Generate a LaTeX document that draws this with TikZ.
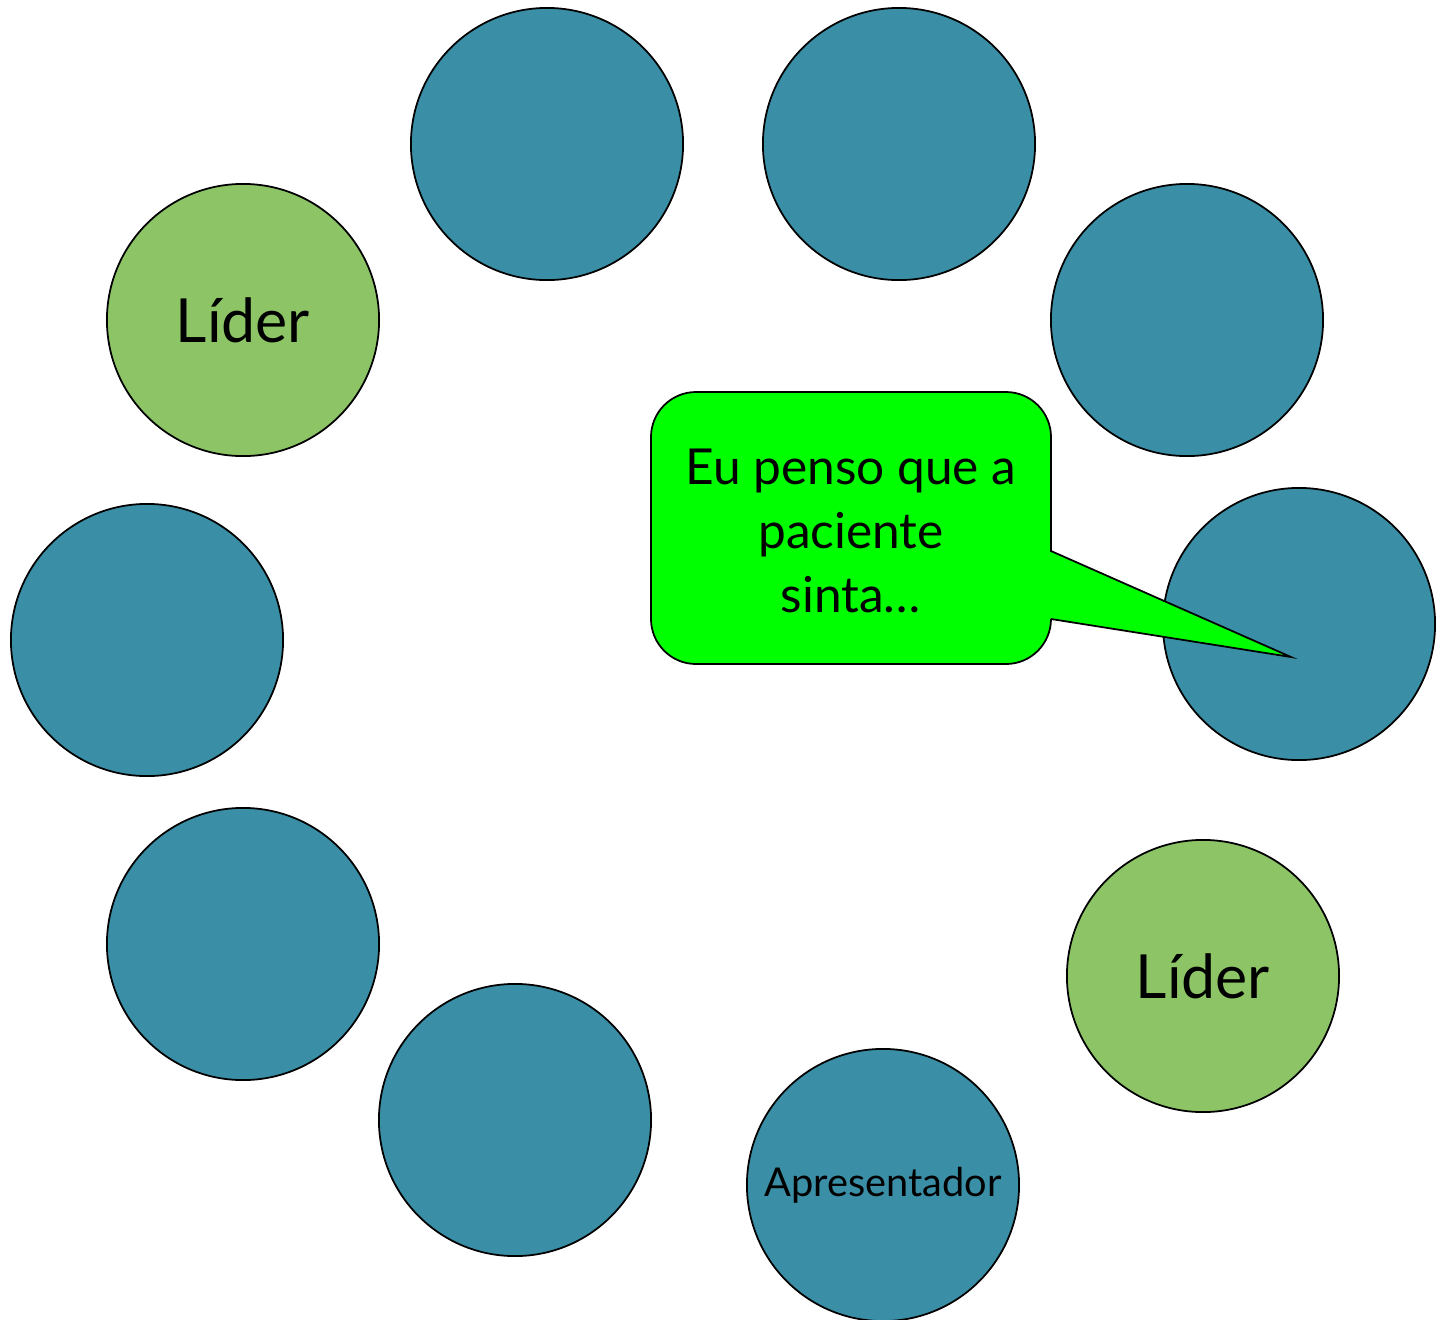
\documentclass[tikz,border=0pt]{standalone}
\usepackage{fontspec}
\setmainfont{Lato}
\usepackage{tikz}
\definecolor{petroleo}{HTML}{3A8FA6}
\definecolor{verdeclaro}{HTML}{8DC566}
\definecolor{verdevivo}{HTML}{00FF00}

\begin{document}
\begin{tikzpicture}[x=0.01cm,y=-0.01cm,line width=0.5pt]
        %
        % `membro' is used for the people in the circle.
        % `lider' is used for the two leaders (green).
        % `balao' is used for the speech bubble.
        \tikzstyle{membro} = [draw,fill=petroleo,shape=circle,minimum size=2.72cm,inner sep=0pt]
        \tikzstyle{lider} = [membro,fill=verdeclaro,font=\fontsize{17.3}{20}\selectfont]
        \tikzstyle{balao} = [draw,fill=verdevivo]
        %
        % Frame
        \useasboundingbox (0,0) rectangle (1441,1320);
        %
        % Top row
        \node[membro] (m1) at (547,144) {};
        \node[membro] (m2) at (899,144) {};
        %
        % Left side
        \node[lider] (lid1) at (243,320) {Líder};
        \node[membro] (m3) at (147,640) {};
        \node[membro] (m4) at (243,944) {};
        \node[membro] (m5) at (515,1120) {};
        %
        % Right side
        \node[membro] (m6) at (1187,320) {};
        \node[membro] (m7) at (1299,624) {};
        \node[lider] (lid2) at (1203,976) {Líder};
        \node[membro,font=\fontsize{11.3}{14}\selectfont] (apr) at (883,1185) {Apresentador};
        %
        % Speech bubble
        \coordinate (ponta) at (1291,657);
        \draw[balao] (1051,551) [rounded corners=0.45cm] -- (1051,392) -- (651,392) -- (651,664) -- (1051,664) [sharp corners] -- (1051,619) -- (ponta) -- cycle;
        \node[align=center,font=\fontsize{14.1}{18.2}\selectfont] (fala) at (851,531) {Eu penso que a\\paciente\\sinta\dots};
        %
        \end{tikzpicture}
\end{document}
